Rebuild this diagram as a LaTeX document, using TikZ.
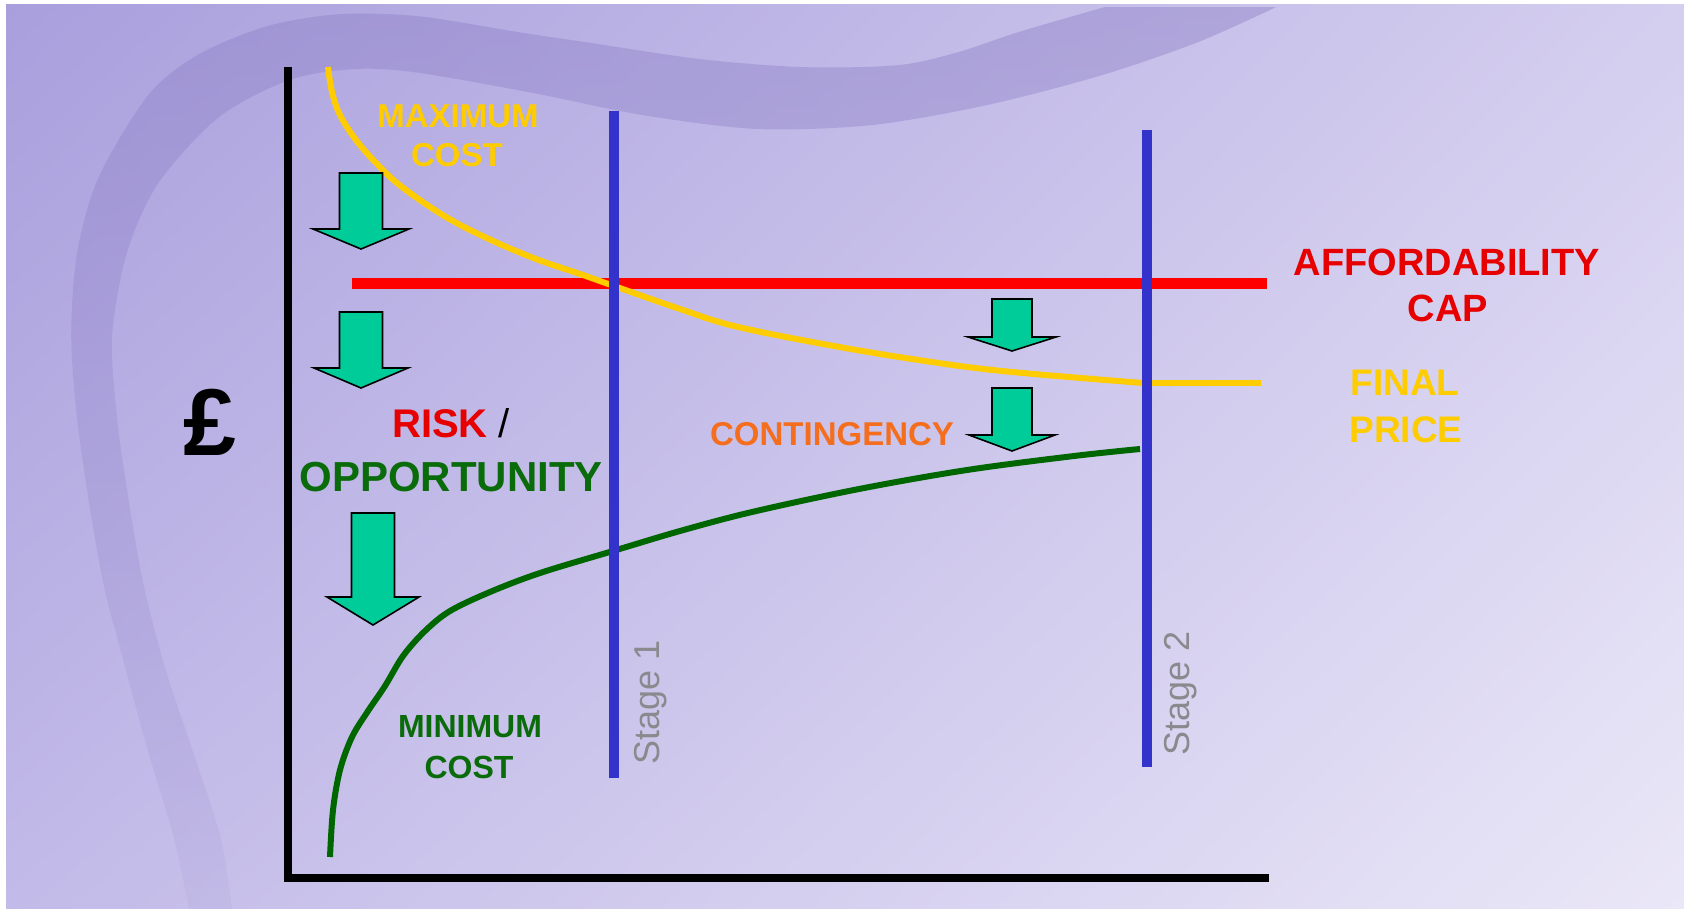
\documentclass[tikz,border=0pt]{standalone}
\usepackage{fontspec}
\setmainfont{Liberation Sans}
\usetikzlibrary{shadings,fadings}
\definecolor{bgUL}{HTML}{A99FDD}
\definecolor{bgUR}{HTML}{D4CEEF}
\definecolor{bgLL}{HTML}{C2BAE8}
\definecolor{bgLR}{HTML}{EAE7F7}
\definecolor{bandc}{HTML}{8F82C8}
\definecolor{capred}{HTML}{FF0000}
\definecolor{txtred}{HTML}{E60000}
\definecolor{maxyel}{HTML}{FFCC00}
\definecolor{mingrn}{HTML}{006600}
\definecolor{txtgrn}{HTML}{0A6B0A}
\definecolor{stageblue}{HTML}{3333CC}
\definecolor{arrowfill}{HTML}{00CC99}
\definecolor{contorange}{HTML}{F56E1E}
\definecolor{stagegray}{HTML}{8A8A8E}
\tikzfading[name=bandfade, top color=transparent!0, middle color=transparent!25, bottom color=transparent!80]
\newcommand\myfs[1]{\fontsize{#1}{#1}\selectfont}
\newcommand\blockarrowdown[6]{%
  \draw[arrowsty] (#1-#3,#2) -- (#1+#3,#2) -- (#1+#3,#4) -- (#1+#5,#4) -- (#1,#6) -- (#1-#5,#4) -- (#1-#3,#4) -- cycle;}
\begin{document}
\begin{tikzpicture}[x=1pt,y=-1pt,
  lbl/.style={inner sep=0pt, anchor=base},
  arrowsty/.style={fill=arrowfill, draw=black, line width=1.6pt, line join=miter},
  axisline/.style={draw=black, line width=8pt, line join=miter},
  capline/.style={draw=capred, line width=11pt},
  maxline/.style={draw=maxyel, line width=6pt},
  minline/.style={draw=mingrn, line width=6pt},
  stageline/.style={draw=stageblue, line width=10pt},
  stagelbl/.style={inner sep=0pt, rotate=90, anchor=west, text=stagegray, font=\myfs{36}}]
\useasboundingbox (0,0) rectangle (1684,909);
% background
\fill[white] (0,0) rectangle (1684,909);
\shade[upper left=bgUL, upper right=bgUR, lower left=bgLL, lower right=bgLR] (6,5) rectangle (1684,909);
% swoosh band
\fill[bandc, opacity=0.45, path fading=bandfade, fit fading=true]
  plot[smooth] coordinates {(190,909) (175,838) (150,754) (127,670) (105,586) (90,502) (78,418) (72,334) (78,250) (100,174) (150,92) (200,52) (268,24) (340,12) (420,14) (520,30) (587,40) (702,57) (806,65) (900,63) (960,50) (1020,30) (1106,5)}
  -- (1278,5) --
  plot[smooth] coordinates {(1278,5) (1200,40) (1104,73) (989,103) (874,123) (759,127) (644,113) (530,90) (415,70) (354,67) (290,78) (220,115) (160,180) (128,250) (113,334) (118,418) (130,502) (145,586) (167,670) (195,754) (222,838) (233,909)}
  -- cycle;
% axes
\coordinate (ytop) at (288,67);
\coordinate (orig) at (288,878);
\coordinate (xend) at (1269,878);
\draw[axisline] (ytop) -- (orig) -- (xend);
% affordability cap
\coordinate (capL) at (352,283.5);
\coordinate (capR) at (1267,283.5);
\draw[capline] (capL) -- (capR);
% maximum cost curve
\draw[maxline] plot[smooth, tension=0.6] coordinates {(328,67) (332,92) (340,115) (356,140) (378,165) (402,187) (446,217) (491,240) (536,259) (580,274) (614,286) (680,309) (734,326) (823,344) (912,359) (1002,371) (1143,383)};
\coordinate (fpL) at (1151,383);
\coordinate (fpR) at (1261,383);
\draw[maxline] (fpL) -- (fpR);
% minimum cost curve
\draw[minline] plot[smooth, tension=0.55] coordinates {(330,857) (333,810) (340,770) (352,737) (368,711) (385,686) (403,656) (425,631) (450,611) (490,592) (540,573) (613,551) (680,531) (752,512) (859,489) (967,470) (1074,456) (1140,449)};
% stage lines
\coordinate (s1t) at (614,111);
\coordinate (s1b) at (614,778);
\coordinate (s2t) at (1147,130);
\coordinate (s2b) at (1147,767);
\draw[stageline] (s1t) -- (s1b);
\draw[stageline] (s2t) -- (s2b);
% arrows
\blockarrowdown{361}{173}{21.5}{229}{48}{249}
\blockarrowdown{361}{312}{21.5}{368}{47}{388}
\blockarrowdown{373}{513}{21.5}{597}{46}{625}
\blockarrowdown{1012}{299}{20}{337}{44}{351}
\blockarrowdown{1012}{388}{20}{435}{43}{451}
% labels
\node[lbl, text=maxyel, font=\bfseries\myfs{33}] (max1) at (458,128) {MAXIMUM};
\node[lbl, text=maxyel, font=\bfseries\myfs{33}] (max2) at (457,167) {COST};
\node[lbl, text=txtred, font=\bfseries\myfs{38}] (aff1) at (1447,276) {AFFORDABILITY};
\node[lbl, text=txtred, font=\bfseries\myfs{38}] (aff2) at (1448,322) {CAP};
\node[lbl, text=maxyel, font=\bfseries\myfs{37}] (fin1) at (1405,395) {FINAL};
\node[lbl, text=maxyel, font=\bfseries\myfs{37}] (fin2) at (1406,442) {PRICE};
\node[inner sep=0pt, anchor=base west, font=\bfseries\myfs{40}] (risk) at (392,437) {\textcolor{txtred}{RISK} {\mdseries /}};
\node[lbl, text=txtgrn, font=\bfseries\myfs{42}] (opp) at (451,491) {OPPORTUNITY};
\node[lbl, text=contorange, font=\bfseries\myfs{33}] (cont) at (832,445) {CONTINGENCY};
\node[lbl, text=txtgrn, font=\bfseries\myfs{32}] (min1) at (470,737) {MINIMUM};
\node[lbl, text=txtgrn, font=\bfseries\myfs{32}] (min2) at (469,778) {COST};
\node[lbl, text=black, font=\bfseries\myfs{95}] (pound) at (210,455) {£};
\node[stagelbl] (st1) at (651,765) {Stage 1};
\node[stagelbl] (st2) at (1181,756) {Stage 2};
\end{tikzpicture}
\end{document}
